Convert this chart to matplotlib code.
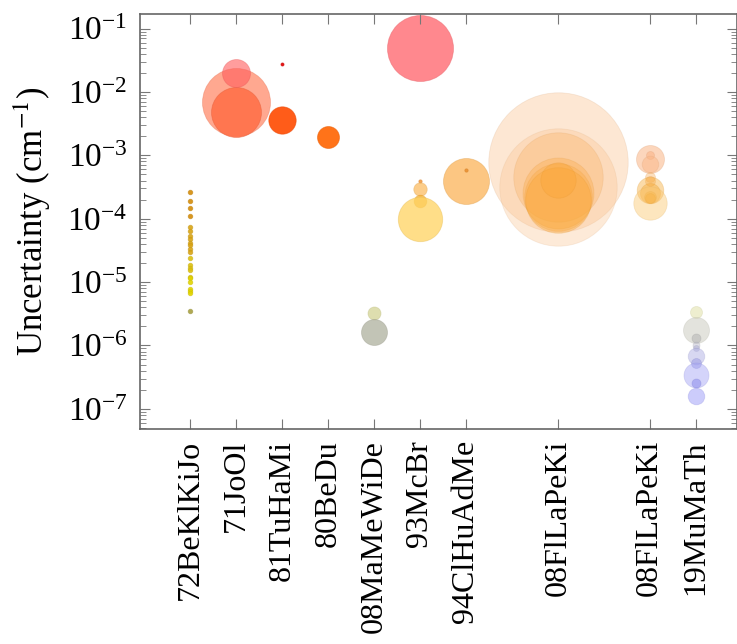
import numpy as np
import matplotlib
matplotlib.use("Agg")
import matplotlib.pyplot as plt
from matplotlib.ticker import LogLocator, NullFormatter

plt.rcParams["font.family"] = "serif"
plt.rcParams["font.serif"] = ["Liberation Serif", "DejaVu Serif"]
plt.rcParams["mathtext.fontset"] = "stix"

# source labels and their x positions (gap before each 08FlLaPeKi group)
sources = ["72BeKlKiJo", "71JoOl", "81TuHaMi", "80BeDu", "08MaMeWiDe",
           "93McBr", "94ClHuAdMe", "08FlLaPeKi", "08FlLaPeKi", "19MuMaTh"]
positions = [1, 2, 3, 4, 5, 6, 7, 9, 11, 12]

# uncertainties (cm^-1) per source
unc_72 = [2.63e-4, 1.90e-4, 1.49e-4, 1.12e-4, 7.5e-5, 6.3e-5, 5.4e-5, 4.8e-5,
          4.2e-5, 3.8e-5, 3.3e-5, 2.96e-5, 2.39e-5, 1.87e-5, 1.69e-5, 1.56e-5,
          1.22e-5, 1.14e-5, 1.0e-5, 7.8e-6, 7.2e-6, 6.7e-6, 3.5e-6]
unc_71 = [7.0e-3, 4.9e-3, 2.0e-2]
unc_81 = [2.73e-2, 3.56e-3]
unc_80 = [1.97e-3]
unc_08m = [3.3e-6, 1.65e-6]
unc_93 = [4.9e-2, 3.97e-4, 2.97e-4, 1.92e-4, 9.86e-5]
unc_94 = [3.94e-4, 5.93e-4]
unc_08a = [7.9e-4, 3.11e-4, 4.54e-4, 2.58e-4, 2.22e-4, 1.99e-4, 4.12e-4]
unc_08b = [8.8e-4, 1.0e-3, 7.3e-4, 4.6e-4, 3.9e-4, 2.86e-4, 2.54e-4, 2.24e-4,
           2.14e-4, 1.76e-4]
unc_19 = [3.34e-6, 1.76e-6, 1.33e-6, 1.02e-6, 9.0e-7, 6.8e-7, 5.2e-7, 3.4e-7,
          2.6e-7, 1.61e-7]

# bubble radius in pixels (number of lines in each group)
rad_72 = [2.3] * len(unc_72)
rad_71 = [34, 25, 14]
rad_81 = [1.6, 13.7]
rad_80 = [11]
rad_08m = [6.5, 13]
rad_93 = [33, 1.7, 6.7, 6.3, 22.2]
rad_94 = [23, 1.7]
rad_08a = [69.7, 58.7, 44.7, 35.5, 33.8, 32.8, 17.7]
rad_08b = [14, 4, 8.3, 5, 5, 13.3, 10, 6, 5, 16.7]
rad_19 = [6, 13, 4.5, 3.5, 3, 8.3, 5, 12.5, 4.5, 8.3]

col_72 = ["#d48c08"] * 4 + ["#d9a414"] * 8 + ["#dcc010"] * 5 + ["#e2d400"] * 5 + ["#a8a040"]
col_71 = ["#ff7a55", "#ff6a40", "#ff5c5c"]
col_81 = ["#e00000", "#ff4a00"]
col_80 = ["#ff6400"]
col_08m = ["#d4d494", "#a9ab98"]
col_93 = ["#ff6b72", "#f09030", "#fbb858", "#f6a81a", "#ffd360"]
col_94 = ["#fbb458", "#e88a28"]
col_08a = ["#fcd0a8", "#fbc490", "#fbb870", "#fbac48", "#fba838", "#fba630", "#fca430"]
col_08b = ["#fbbc90", "#fbb080", "#fbb888", "#f8b060", "#f8aa50", "#f8b040", "#f5a830",
           "#f5a830", "#f5a020", "#fcc870"]
col_19 = ["#e4e4b0", "#c9c9bc", "#b0b0b0", "#b8b8c8", "#a8a8d0", "#a8a8e0", "#9898e4",
          "#a0a0f4", "#8888ec", "#9a9af8"]
alp_72 = [0.9] * len(unc_72)
alp_71 = [0.65, 0.8, 0.6]
alp_81 = [0.9, 0.9]
alp_80 = [0.9]
alp_08m = [0.75, 0.7]
alp_93 = [0.8, 0.8, 0.7, 0.65, 0.75]
alp_94 = [0.75, 0.8]
alp_08a = [0.5, 0.35, 0.4, 0.35, 0.3, 0.35, 0.35]
alp_08b = [0.6, 0.5, 0.5, 0.4, 0.4, 0.45, 0.4, 0.4, 0.4, 0.45]
alp_19 = [0.6, 0.5, 0.5, 0.45, 0.45, 0.45, 0.5, 0.45, 0.5, 0.5]

groups = [
    (unc_72, rad_72, col_72, alp_72),
    (unc_71, rad_71, col_71, alp_71),
    (unc_81, rad_81, col_81, alp_81),
    (unc_80, rad_80, col_80, alp_80),
    (unc_08m, rad_08m, col_08m, alp_08m),
    (unc_93, rad_93, col_93, alp_93),
    (unc_94, rad_94, col_94, alp_94),
    (unc_08a, rad_08a, col_08a, alp_08a),
    (unc_08b, rad_08b, col_08b, alp_08b),
    (unc_19, rad_19, col_19, alp_19),
]

DPI = 100
fig = plt.figure(figsize=(7.37, 6.44), dpi=DPI)
ax = fig.add_axes([140 / 737, 1 - 429 / 644, 597 / 737, 415 / 644])

for xpos, (vals, rads, cols, alps) in zip(positions, groups):
    for v, r, c, a in zip(vals, rads, cols, alps):
        s = (2 * r * 72 / DPI) ** 2
        rgba = matplotlib.colors.to_rgba(c, a)
        edge = matplotlib.colors.to_rgba(np.array(matplotlib.colors.to_rgb(c)) * 0.9, a * 0.6)
        ax.scatter([xpos], [v], s=s, facecolor=[rgba], edgecolor=[edge], linewidths=0.6)

ax.set_yscale("log")
ax.set_ylim(4.8e-8, 0.17)
ax.set_xlim(-0.09, 12.9)
ax.set_xticks(positions)
ax.set_xticklabels(sources, rotation=90, fontsize=23)
ax.yaxis.set_major_locator(LogLocator(base=10, numticks=12))
ax.yaxis.set_minor_locator(LogLocator(base=10, subs=np.arange(2, 10), numticks=12))
ax.yaxis.set_minor_formatter(NullFormatter())
ax.tick_params(axis="y", which="major", labelsize=24, direction="in", length=7,
               right=True, color="#777777", pad=9)
ax.tick_params(axis="y", which="minor", direction="in", length=4, right=True, color="#777777")
ax.tick_params(axis="x", which="major", direction="in", length=7, top=True,
               color="#777777", pad=8)
ax.tick_params(axis="x", which="minor", bottom=False, top=False)
for sp in ax.spines.values():
    sp.set_color("#666666")
    sp.set_linewidth(1.2)

ax.set_ylabel("Uncertainty (cm$^{-1}$)", fontsize=25, labelpad=10)

fig.savefig("out.png", dpi=DPI)
